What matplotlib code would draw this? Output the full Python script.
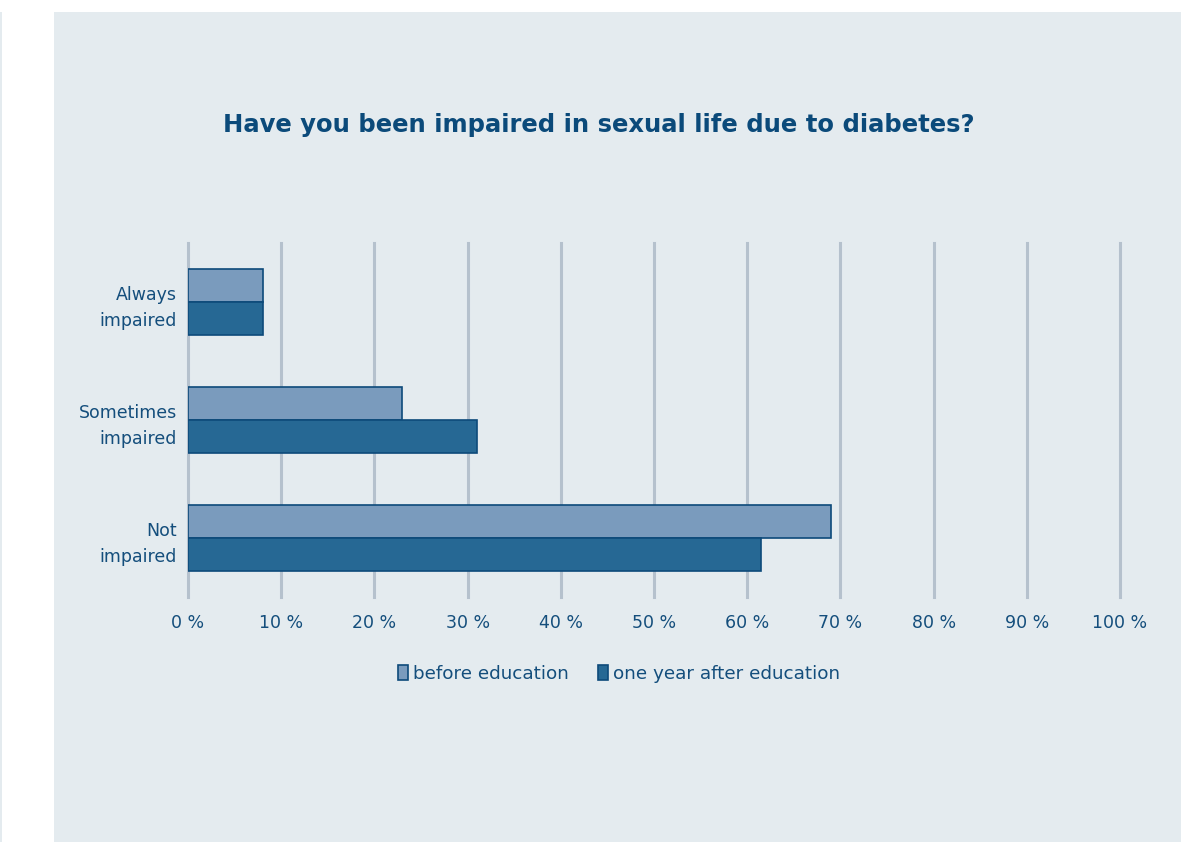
import numpy as np
import matplotlib.pyplot as plt
from matplotlib.patches import Rectangle

# data
categories = ['Always\nimpaired', 'Sometimes\nimpaired', 'Not\nimpaired']
before = [8, 23, 69]
after = [8, 31, 61.5]
series_names = ['before education', 'one year after education']
ticks = np.arange(0, 101, 10)
tick_labels = ['%d %%' % t for t in ticks]

# colours
bg = '#e4ebef'
c_before = '#7a9bbd'
c_after = '#266894'
c_edge = '#0d4a7a'
c_text = '#144e7c'
c_grid = '#b5c1cd'

plt.rcParams['font.family'] = ['DejaVu Sans']

W, H = 1204, 842
fig = plt.figure(figsize=(W/100, H/100), dpi=100)
fig.patch.set_facecolor('white')

# background panel and thin strip at the left
fig.patches.append(Rectangle((54/W, 0), (1181-54)/W, (842-12)/H,
                             transform=fig.transFigure, facecolor=bg,
                             edgecolor='none', zorder=-5))
fig.patches.append(Rectangle((0, 0), 2/W, (842-12)/H,
                             transform=fig.transFigure, facecolor=bg,
                             edgecolor='none', zorder=-5))

ax = fig.add_axes([188/W, (842-597)/H, (1120-188)/W, (597-243)/H])
ax.set_facecolor('none')

y = np.arange(len(categories))
h = 0.28
ax.barh(y - h/2, before, height=h, color=c_before, edgecolor=c_edge,
        linewidth=1.2, zorder=3, label=series_names[0])
ax.barh(y + h/2, after, height=h, color=c_after, edgecolor=c_edge,
        linewidth=1.2, zorder=3, label=series_names[1])

ax.set_xlim(0, 100)
ax.set_ylim(2.5, -0.5)
ax.set_xticks(ticks)
ax.set_xticklabels(tick_labels)
ax.set_yticks(y)
ax.set_yticklabels(categories, ha='right', linespacing=1.55)
ax.tick_params(length=0, labelsize=12.5, colors=c_text)
ax.tick_params(axis='x', pad=12)
ax.tick_params(axis='y', pad=8)
for s in ax.spines.values():
    s.set_visible(False)
ax.grid(axis='x', color=c_grid, linewidth=2.2, zorder=0)
ax.set_axisbelow(True)
for gl in ax.get_xgridlines():
    gl.set_clip_on(False)

fig.text(599/W, 1 - 125/H, 'Have you been impaired in sexual life due to diabetes?',
         ha='center', va='center', fontsize=17.5, fontweight='bold', color='#0b4a7a')

leg = fig.legend(loc='center', bbox_to_anchor=(619/W, 1 - 674/H), ncol=2,
                 frameon=False, fontsize=13.2, handlelength=0.55, handleheight=0.9,
                 handletextpad=0.25, columnspacing=1.6)
for t in leg.get_texts():
    t.set_color(c_text)

fig.savefig('out.png', dpi=100, facecolor='white')
